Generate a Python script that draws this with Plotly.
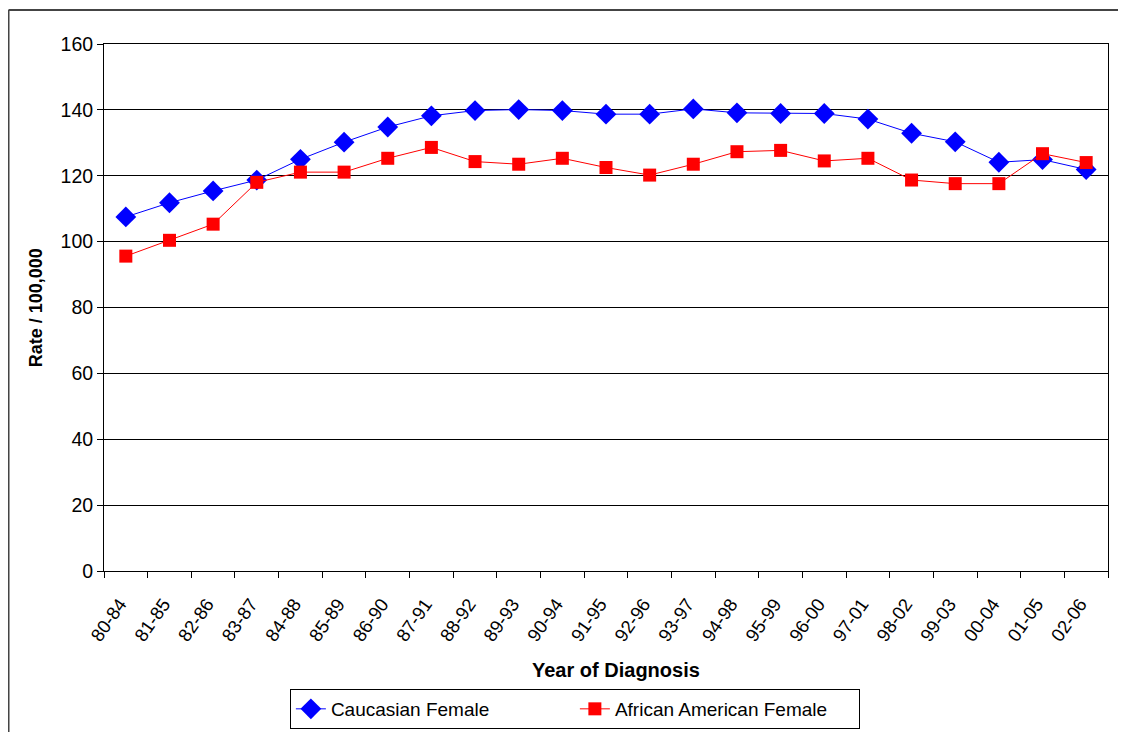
import plotly.graph_objects as go

periods = ["80-84", "81-85", "82-86", "83-87", "84-88", "85-89", "86-90", "87-91",
           "88-92", "89-93", "90-94", "91-95", "92-96", "93-97", "94-98", "95-99",
           "96-00", "97-01", "98-02", "99-03", "00-04", "01-05", "02-06"]
caucasian = [107.5, 111.8, 115.4, 118.7, 125.0, 130.2, 134.8, 138.2,
             139.8, 140.1, 139.8, 138.7, 138.7, 140.3, 139.1, 138.9,
             138.9, 137.2, 132.9, 130.3, 124.1, 124.9, 121.9]
african_american = [95.6, 100.4, 105.3, 118.0, 121.1, 121.1, 125.3, 128.6,
                    124.3, 123.5, 125.3, 122.5, 120.2, 123.5, 127.3, 127.7,
                    124.5, 125.3, 118.7, 117.6, 117.6, 126.7, 124.0]
y_ticks = [0, 20, 40, 60, 80, 100, 120, 140, 160]

FONT = "Liberation Sans, Arial, sans-serif"

fig = go.Figure()
fig.add_trace(go.Scatter(
    x=periods, y=caucasian, name="Caucasian Female", mode="lines+markers",
    line=dict(color="#0000FF", width=1),
    marker=dict(symbol="diamond", size=16, color="#0000FF"),
))
fig.add_trace(go.Scatter(
    x=periods, y=african_american, name="African American Female", mode="lines+markers",
    line=dict(color="#FF0000", width=1),
    marker=dict(symbol="square", size=13, color="#FF0000"),
))

fig.update_layout(
    width=1126, height=732,
    margin=dict(l=96, r=26, t=36, b=169),
    paper_bgcolor="white", plot_bgcolor="white",
    font=dict(family=FONT, color="black"),
    showlegend=True,
    legend=dict(
        orientation="h", x=0.469, xanchor="center",
        yref="container", y=0.0697, yanchor="top",
        bordercolor="black", borderwidth=1, font=dict(size=19, family=FONT),
        entrywidth=239, tracegroupgap=0,
    ),
    xaxis=dict(
        type="category", tickson="boundaries", ticks="outside", ticklen=6,
        tickcolor="black", tickwidth=1, tickangle=-55,
        tickfont=dict(size=18.5, family=FONT),
        ticklabelshift=-6, ticklabelstandoff=14,
        showline=True, linecolor="black", linewidth=1, mirror=True,
        showgrid=False, range=[-0.5, 22.5], automargin=False,
    ),
    yaxis=dict(
        range=[0, 160], tickvals=y_ticks, ticks="outside", ticklen=6,
        tickcolor="black", tickwidth=1, tickfont=dict(size=19.5, family=FONT),
        showline=True, linecolor="black", linewidth=1, mirror=True,
        showgrid=True, gridcolor="black", gridwidth=1, zeroline=False,
        automargin=False,
    ),
    annotations=[
        dict(text="<b>Year of Diagnosis</b>", xref="paper", yref="paper",
             x=0.51, y=-0.188, xanchor="center", yanchor="middle",
             showarrow=False, font=dict(size=20, family=FONT)),
        dict(text="<b>Rate / 100,000</b>", xref="paper", yref="paper",
             x=-0.068, y=0.5, xanchor="center", yanchor="middle", textangle=-90,
             showarrow=False, font=dict(size=18, family=FONT)),
    ],
    shapes=[
        dict(type="line", xref="paper", yref="paper", x0=-0.0951, x1=1.05,
             y0=1.0645, y1=1.0645, line=dict(color="#444444", width=2)),
        dict(type="line", xref="paper", yref="paper", x0=-0.0951, x1=-0.0951,
             y0=1.0645, y1=-0.35, line=dict(color="#444444", width=2)),
    ],
)

fig.write_html("out.html")
